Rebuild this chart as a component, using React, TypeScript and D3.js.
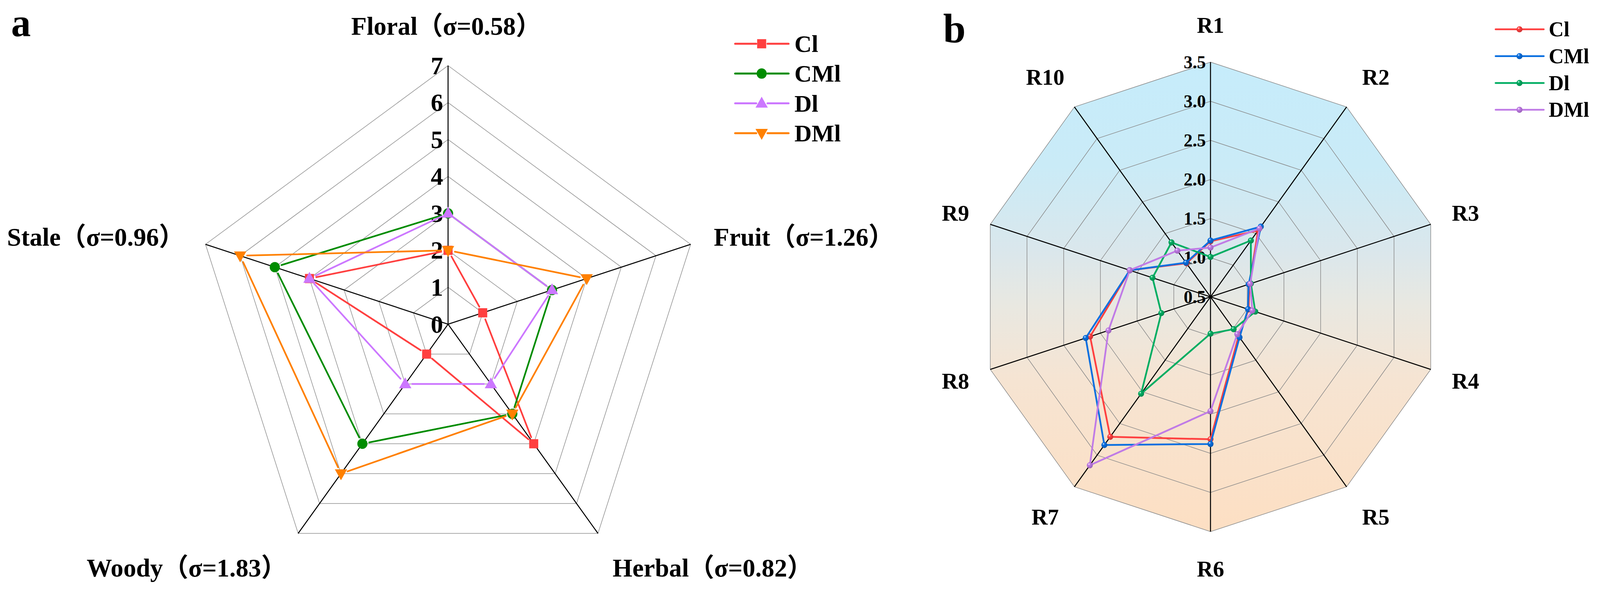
import React from 'react';
import * as d3 from 'd3';

// panel a: five odour attributes, intensity 0-7
const aAxes = ['Floral', 'Fruit', 'Herbal', 'Woody', 'Stale'];
const aSigma = ['0.58', '1.26', '0.82', '1.83', '0.96'];
const aTicks = [0, 1, 2, 3, 4, 5, 6, 7];
const aCl = [2, 1, 4, 1, 4];
const aCMl = [3, 3, 3, 4, 5];
const aDl = [3, 3, 2, 2, 4];
const aDMl = [2, 4, 3, 5, 6];

// panel b: ten sensor responses R1-R10
const bAxes = ['R1', 'R2', 'R3', 'R4', 'R5', 'R6', 'R7', 'R8', 'R9', 'R10'];
const bTicks = [0.5, 1.0, 1.5, 2.0, 2.5, 3.0, 3.5];
const bCl = [1.21, 1.55, 1.03, 1.02, 1.12, 2.32, 2.71, 2.14, 1.6, 1.03];
const bCMl = [1.22, 1.61, 1.02, 1.01, 1.14, 2.38, 2.84, 2.2, 1.6, 1.04];
const bDl = [1.01, 1.39, 1.05, 1.11, 1.01, 0.97, 2.03, 1.17, 1.29, 1.36];
const bDMl = [1.13, 1.58, 1.04, 1.07, 1.09, 1.96, 3.16, 1.89, 1.6, 1.23];

const seriesNames = ['Cl', 'CMl', 'Dl', 'DMl'];
const aColors = ['#ff3f3f', '#008c00', '#cc77ff', '#ff8000'];
const bColors = ['#ff3f3f', '#0a6fe0', '#00ad62', '#c07be6'];
const aMarkers = ['square', 'circle', 'up', 'down'];

const SERIF = "'Liberation Serif', 'Times New Roman', 'Noto Sans CJK SC', serif";

function Marker({ kind, x, y, color }: { kind: string; x: number; y: number; color: string }) {
  if (kind === 'square') return <rect x={x - 11.75} y={y - 11.75} width={23.5} height={23.5} fill={color} />;
  if (kind === 'circle') return <circle cx={x} cy={y} r={13.2} fill={color} />;
  if (kind === 'up') return <path d={`M${x},${y - 17}L${x + 16},${y + 11}L${x - 16},${y + 11}Z`} fill={color} />;
  return <path d={`M${x},${y + 17}L${x + 16},${y - 11}L${x - 16},${y - 11}Z`} fill={color} />;
}

function RadarA() {
  const cx = 1163, cy = 830, R = 662, GAP = 18;
  const n = aAxes.length;
  const r = d3.scaleLinear().domain([0, 7]).range([0, R]);
  const ang = (i: number) => (i * 2 * Math.PI) / n;
  const pt = (i: number, v: number) => {
    const [x, y] = d3.pointRadial(ang(i), r(v));
    return [cx + x, cy + y];
  };
  const ring = d3.lineRadial<number>().angle((_, i) => ang(i)).radius(d => r(d)).curve(d3.curveLinearClosed);
  const all = [aCl, aCMl, aDl, aDMl];

  const labelPos = (i: number) => {
    const [vx, vy] = pt(i, 7);
    const s = Math.sin(ang(i)), c = Math.cos(ang(i));
    if (c > 0.9) return { x: vx - 5, y: vy - 79, anchor: 'middle' };
    if (c > 0) return s > 0 ? { x: vx + 60, y: vy + 4, anchor: 'start' } : { x: vx - 55, y: vy + 4, anchor: 'end' };
    return s > 0 ? { x: vx + 38, y: vy + 110, anchor: 'start' } : { x: vx - 30, y: vy + 110, anchor: 'end' };
  };

  return (
    <g>
      <g transform={`translate(${cx},${cy})`}>
        {aTicks.slice(1).map(t => (
          <path key={t} d={ring(aAxes.map(() => t)) ?? ''} fill="none" stroke="#8f8f8f" strokeWidth={1.5} />
        ))}
      </g>
      {aAxes.map((a, i) => {
        const [x, y] = pt(i, 7);
        return <line key={a} x1={cx} y1={cy} x2={x} y2={y} stroke="#000" strokeWidth={2.6} />;
      })}
      {aTicks.map(t => (
        <text key={t} x={cx - 13} y={cy - r(t)} textAnchor="end" dominantBaseline="central"
          fontFamily={SERIF} fontWeight="bold" fontSize={64}>{t}</text>
      ))}
      {all.map((vals, s) => (
        <g key={s}>
          {vals.map((v, i) => {
            const j = (i + 1) % n;
            const p = pt(i, v), q = pt(j, vals[j]);
            const dx = q[0] - p[0], dy = q[1] - p[1], d = Math.hypot(dx, dy);
            if (d <= 2 * GAP) return null;
            const ux = dx / d, uy = dy / d;
            return (
              <line key={i} x1={p[0] + ux * GAP} y1={p[1] + uy * GAP} x2={q[0] - ux * GAP} y2={q[1] - uy * GAP}
                stroke={aColors[s]} strokeWidth={4.3} strokeLinecap="round" />
            );
          })}
          {vals.map((v, i) => {
            const [x, y] = pt(i, v);
            return <Marker key={i} kind={aMarkers[s]} x={x} y={y} color={aColors[s]} />;
          })}
        </g>
      ))}
      {aAxes.map((a, i) => {
        const lp = labelPos(i);
        return (
          <text key={a} x={lp.x} y={lp.y} textAnchor={lp.anchor as any} fontFamily={SERIF} fontWeight="bold" fontSize={66}>
            {`${a}（σ=${aSigma[i]}）`}
          </text>
        );
      })}
      {/* legend */}
      {seriesNames.map((name, s) => {
        const y = 112 + s * 76.3;
        return (
          <g key={name}>
            <line x1={1908} y1={y} x2={1963} y2={y} stroke={aColors[s]} strokeWidth={5} strokeLinecap="round" />
            <line x1={1992} y1={y} x2={2047} y2={y} stroke={aColors[s]} strokeWidth={5} strokeLinecap="round" />
            <Marker kind={aMarkers[s]} x={1977} y={y} color={aColors[s]} />
            <text x={2062} y={y} dominantBaseline="central" fontFamily={SERIF} fontWeight="bold" fontSize={62}>{name}</text>
          </g>
        );
      })}
      <text x={29} y={92} fontFamily={SERIF} fontWeight="bold" fontSize={102}>a</text>
    </g>
  );
}

function RadarB() {
  const cx = 3142, cy = 760, R = 601;
  const n = bAxes.length;
  const r = d3.scaleLinear().domain([0.5, 3.5]).range([0, R]);
  const ang = (i: number) => (i * 2 * Math.PI) / n;
  const pt = (i: number, v: number) => {
    const [x, y] = d3.pointRadial(ang(i), r(v));
    return [cx + x, cy + y];
  };
  const ring = d3.lineRadial<number>().angle((_, i) => ang(i)).radius(d => r(d)).curve(d3.curveLinearClosed);
  const poly = d3.line().curve(d3.curveLinearClosed);
  const all = [bCl, bCMl, bDl, bDMl];
  const fmt = d3.format('.1f');

  return (
    <g>
      <defs>
        {/* coordinates are local to the translated group below */}
        <linearGradient id="bgB" gradientUnits="userSpaceOnUse" x1={0} y1={-R} x2={0} y2={R}>
          <stop offset="0" stopColor="#c6ecfb" />
          <stop offset="0.22" stopColor="#caebf7" />
          <stop offset="0.4" stopColor="#dae7ec" />
          <stop offset="0.52" stopColor="#e9e8e1" />
          <stop offset="0.68" stopColor="#f6e4d2" />
          <stop offset="1" stopColor="#fddfc3" />
        </linearGradient>
        {bColors.map((c, s) => (
          <radialGradient key={s} id={`ball${s}`} cx="0.4" cy="0.38" r="0.62" fx="0.35" fy="0.3">
            <stop offset="0" stopColor="#ffffff" />
            <stop offset="0.3" stopColor={c} />
            <stop offset="1" stopColor={d3.color(c)!.darker(0.6).formatHex()} />
          </radialGradient>
        ))}
      </defs>
      <g transform={`translate(${cx},${cy})`}>
        <path d={ring(bAxes.map(() => 3.5)) ?? ''} fill="url(#bgB)" />
        {bTicks.slice(1).map(t => (
          <path key={t} d={ring(bAxes.map(() => t)) ?? ''} fill="none" stroke="#8a8a8a" strokeWidth={1.5} />
        ))}
      </g>
      {bAxes.map((a, i) => {
        const [x, y] = pt(i, 3.5);
        return <line key={a} x1={cx} y1={cy} x2={x} y2={y} stroke="#000" strokeWidth={2.6} />;
      })}
      {bTicks.map(t => (
        <text key={t} x={cx - 12} y={cy - r(t)} textAnchor="end" dominantBaseline="central"
          fontFamily={SERIF} fontWeight="bold" fontSize={46}>{fmt(t)}</text>
      ))}
      {all.map((vals, s) => (
        <g key={s}>
          <path d={poly(vals.map((v, i) => pt(i, v) as [number, number])) ?? ''} fill="none"
            stroke={bColors[s]} strokeWidth={4.5} strokeLinejoin="round" />
          {vals.map((v, i) => {
            const [x, y] = pt(i, v);
            return <circle key={i} cx={x} cy={y} r={7.8} fill={`url(#ball${s})`} />;
          })}
        </g>
      ))}
      {bAxes.map((a, i) => {
        const [x, y] = d3.pointRadial(ang(i), R + 95);
        const s = Math.sin(ang(i));
        const nudge = Math.abs(s) > 0.1 && Math.abs(s) < 0.9 ? Math.sign(s) * 20 : 0;
        return (
          <text key={a} x={cx + x + nudge} y={cy + y} textAnchor="middle" dominantBaseline="central"
            fontFamily={SERIF} fontWeight="bold" fontSize={58}>{a}</text>
        );
      })}
      {seriesNames.map((name, s) => {
        const y = 75 + s * 68.7;
        return (
          <g key={name}>
            <line x1={3882} y1={y} x2={4007} y2={y} stroke={bColors[s]} strokeWidth={4.5} strokeLinecap="round" />
            <circle cx={3944} cy={y} r={7.8} fill={`url(#ball${s})`} />
            <text x={4020} y={y} dominantBaseline="central" fontFamily={SERIF} fontWeight="bold" fontSize={54}>{name}</text>
          </g>
        );
      })}
      <text x={2448} y={109} fontFamily={SERIF} fontWeight="bold" fontSize={105}>b</text>
    </g>
  );
}

export default function App() {
  // fit the 4153x1513 drawing to whatever the visible viewport is
  return (
    <svg viewBox="0 0 4153 1513" preserveAspectRatio="none"
      style={{ position: 'absolute', left: 0, top: 0, width: '100vw', height: '100vh', background: '#fff', display: 'block' }}>
      <rect width={4153} height={1513} fill="#fff" />
      <RadarA />
      <RadarB />
    </svg>
  );
}
